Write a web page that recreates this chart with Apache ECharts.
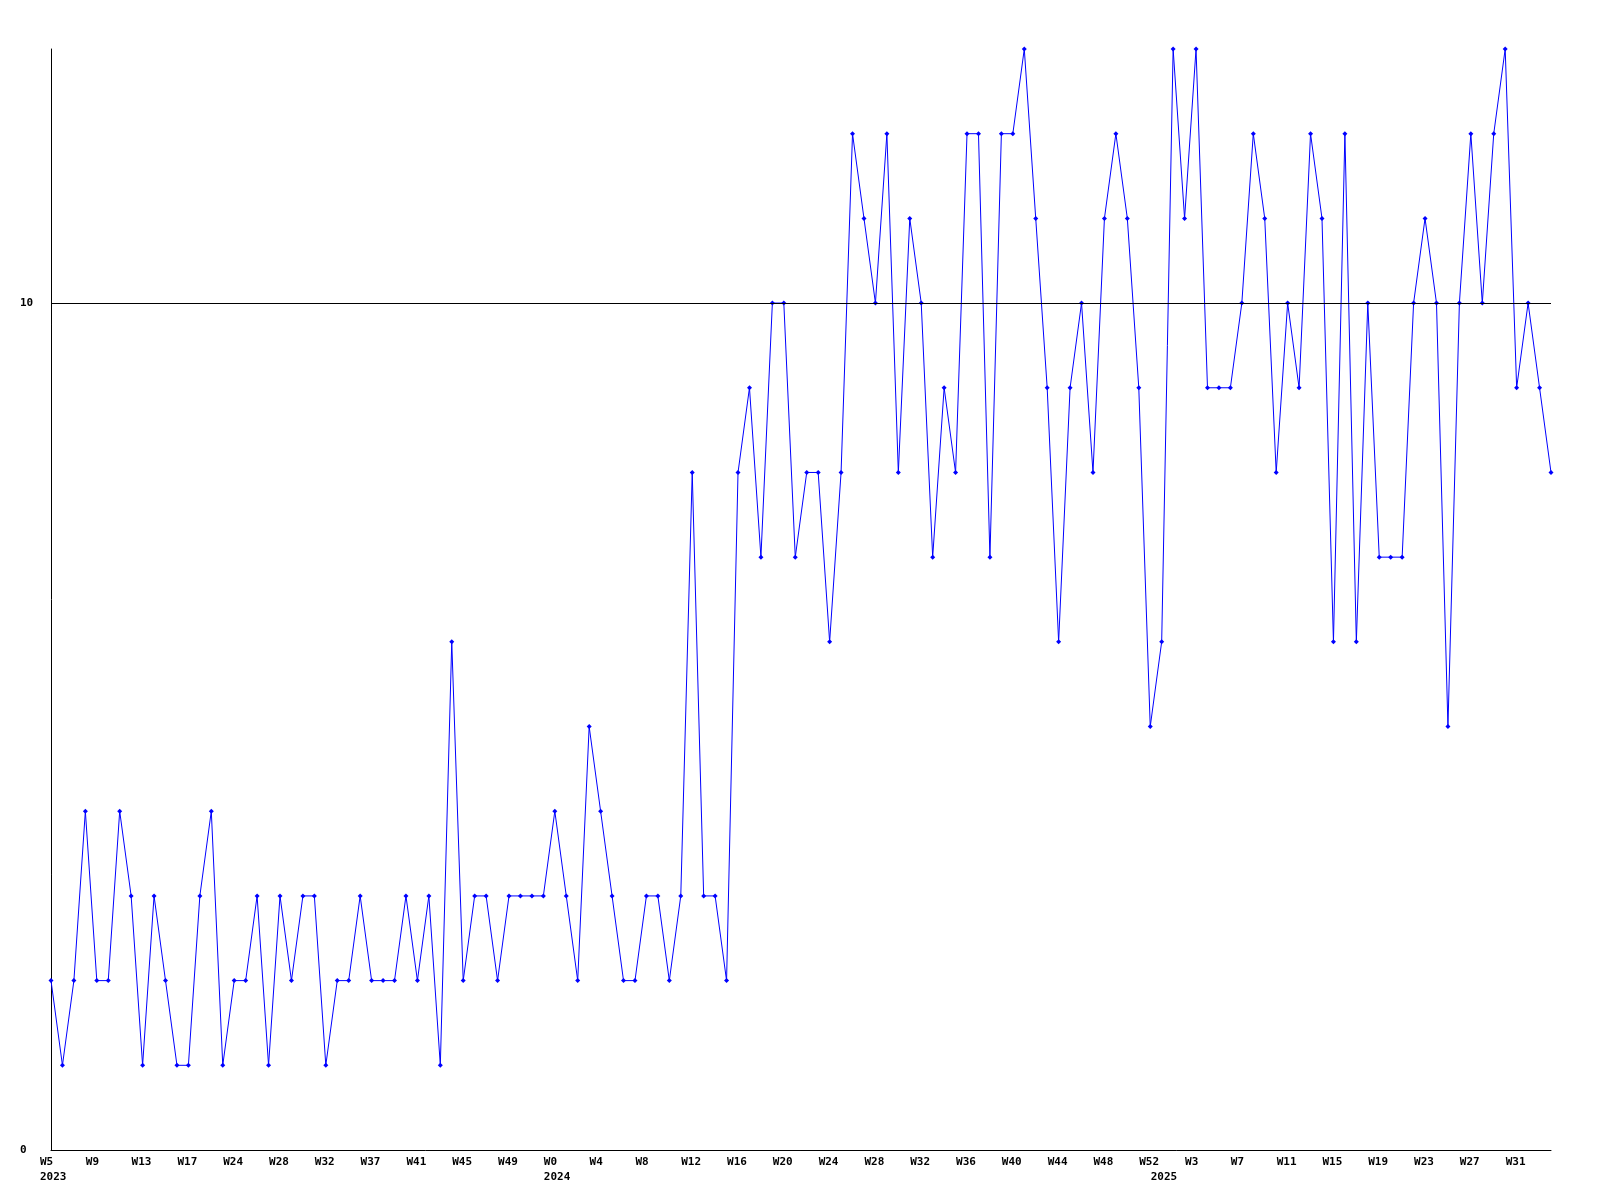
<!DOCTYPE html>
<html>
<head>
<meta charset="utf-8">
<script src="https://cdn.jsdelivr.net/npm/echarts@6/dist/echarts.min.js"></script>
<style>
html,body{margin:0;padding:0;background:#fff;}
#chart{width:1600px;height:1200px;}
</style>
</head>
<body>
<div id="chart"></div>
<script>
// Week categories ("year Wnn")
const categories = [
  "2023 W5","2023 W6","2023 W7","2023 W8","2023 W9","2023 W10","2023 W11","2023 W12",
  "2023 W13","2023 W14","2023 W15","2023 W16","2023 W17","2023 W19","2023 W21","2023 W22",
  "2023 W24","2023 W25","2023 W26","2023 W27","2023 W28","2023 W29","2023 W30","2023 W31",
  "2023 W32","2023 W34","2023 W35","2023 W36","2023 W37","2023 W38","2023 W39","2023 W40",
  "2023 W41","2023 W42","2023 W43","2023 W44","2023 W45","2023 W46","2023 W47","2023 W48",
  "2023 W49","2023 W50","2023 W51","2023 W52",
  "2024 W0","2024 W1","2024 W2","2024 W3","2024 W4","2024 W5","2024 W6","2024 W7",
  "2024 W8","2024 W9","2024 W10","2024 W11","2024 W12","2024 W13","2024 W14","2024 W15",
  "2024 W16","2024 W17","2024 W18","2024 W19","2024 W20","2024 W21","2024 W22","2024 W23",
  "2024 W24","2024 W25","2024 W26","2024 W27","2024 W28","2024 W29","2024 W30","2024 W31",
  "2024 W32","2024 W33","2024 W34","2024 W35","2024 W36","2024 W37","2024 W38","2024 W39",
  "2024 W40","2024 W41","2024 W42","2024 W43","2024 W44","2024 W45","2024 W46","2024 W47",
  "2024 W48","2024 W49","2024 W50","2024 W51","2024 W52",
  "2025 W0","2025 W1","2025 W2","2025 W3","2025 W4","2025 W5","2025 W6","2025 W7",
  "2025 W8","2025 W9","2025 W10","2025 W11","2025 W12","2025 W13","2025 W14","2025 W15",
  "2025 W16","2025 W17","2025 W18","2025 W19","2025 W20","2025 W21","2025 W22","2025 W23",
  "2025 W24","2025 W25","2025 W26","2025 W27","2025 W28","2025 W29","2025 W30","2025 W31",
  "2025 W32","2025 W33","2025 W34"
];

// Weekly values
const values = [
  2,1,2,4,2,2,4,3, 1,3,2,1,1,3,4,1,
  2,2,3,1,3,2,3,3, 1,2,2,3,2,2,2,3,
  2,3,1,6,2,3,3,2, 3,3,3,3,
  4,3,2,5,4,3,2,2, 3,3,2,3,8,3,3,2,
  8,9,7,10,10,7,8,8, 6,8,12,11,10,12,8,11,
  10,7,9,8,12,12,7,12, 12,13,11,9,6,9,10,8,
  11,12,11,9,5,
  6,13,11,13,9,9,9,10, 12,11,8,10,9,12,11,6,
  12,6,10,7,7,7,10,11, 10,5,10,12,10,12,13,9,
  10,9,8
];

// Axis settings
const yMin = 0;
const yMax = 13;
const yInterval = 10;
const refLines = [10];
const labelEvery = 4;

const font = {fontFamily: "DejaVu Sans Mono", fontWeight: "bold", fontSize: 11, color: "#000"};

const chart = echarts.init(document.getElementById('chart'), null, {renderer: 'canvas'});
chart.setOption({
  animation: false,
  backgroundColor: '#fff',
  grid: {left: 51, right: 49, top: 49, bottom: 50, containLabel: false},
  xAxis: [
    {
      type: 'category',
      data: categories,
      boundaryGap: false,
      position: 'bottom',
      axisLine: {show: true, lineStyle: {color: '#000', width: 1}},
      axisTick: {show: false},
      splitLine: {show: false},
      axisLabel: Object.assign({}, font, {
        interval: labelEvery - 1,
        align: 'left',
        padding: [0, 0, 0, -11],
        margin: 7,
        formatter: v => v.split(' ')[1]
      })
    },
    {
      type: 'category',
      data: categories,
      boundaryGap: false,
      position: 'bottom',
      offset: 15,
      axisLine: {show: false},
      axisTick: {show: false},
      splitLine: {show: false},
      axisLabel: Object.assign({}, font, {
        align: 'left',
        padding: [0, 0, 0, -11],
        margin: 7,
        interval: (i, v) => i === 0 || categories[i - 1].split(' ')[0] !== v.split(' ')[0],
        formatter: v => v.split(' ')[0]
      })
    }
  ],
  yAxis: {
    type: 'value',
    min: yMin,
    max: yMax,
    interval: yInterval,
    axisLine: {show: true, lineStyle: {color: '#000', width: 1}},
    axisTick: {show: false},
    splitLine: {show: false},
    axisLabel: Object.assign({}, font, {
      align: 'left',
      margin: 31,
      showMaxLabel: false
    })
  },
  series: [{
    type: 'line',
    data: values,
    xAxisIndex: 0,
    symbol: 'diamond',
    symbolSize: 5,
    showSymbol: true,
    itemStyle: {color: '#0000ff'},
    lineStyle: {color: '#0000ff', width: 1},
    markLine: {
      silent: true,
      symbol: ['none', 'none'],
      label: {show: false},
      lineStyle: {color: '#000', type: 'solid', width: 1},
      data: refLines.map(v => ({yAxis: v}))
    }
  }]
});
</script>
</body>
</html>
